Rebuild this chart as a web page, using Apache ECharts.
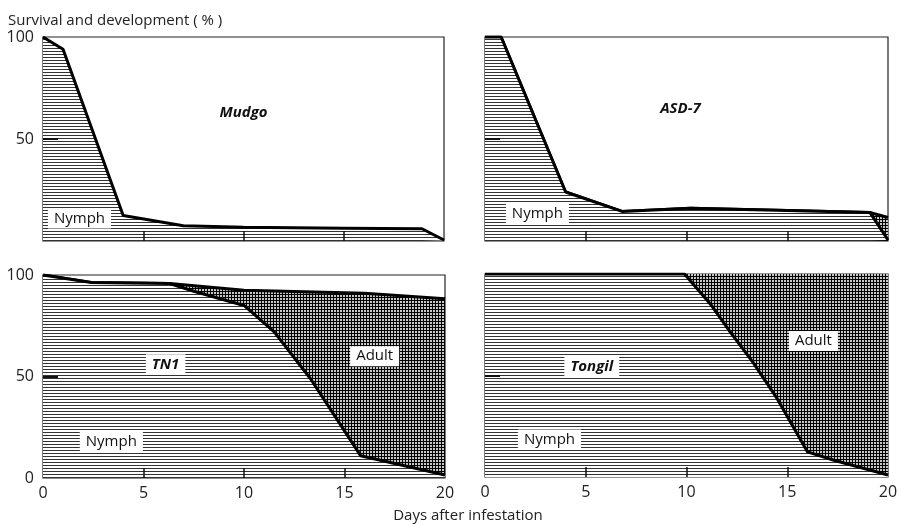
<!DOCTYPE html>
<html><head><meta charset="utf-8">
<script src="https://cdn.jsdelivr.net/npm/echarts@6/dist/echarts.min.js"></script>
<style>html,body{margin:0;padding:0;background:#fff}#c{width:901px;height:524px}</style>
</head><body><div id="c"></div>
<script>
// ---- data (days after infestation, % survival) ----
const mudgoDays   = [0, 1, 4, 7, 10, 15, 18.9, 20];
const mudgoNymph  = [100, 94, 12.5, 7.5, 6.8, 6.3, 6.0, 0.5];

const asdDays     = [0, 0.8, 4, 6.8, 10.2, 15, 19.1, 20];
const asdNymph    = [100, 100, 24, 14.5, 16, 15, 14, 0.5];
const asdTotal    = [100, 100, 24, 14.5, 16, 15, 14, 11.5];

const tn1NymphDays = [0, 2.4, 6.3, 7.5, 10, 11.5, 13.3, 15.8, 20];
const tn1Nymph     = [100, 96.3, 95.8, 92, 85, 72, 49, 11, 1.5];
const tn1TotalDays = [0, 2.4, 6.3, 10, 16, 20];
const tn1Total     = [100, 96.3, 95.8, 92.5, 91, 88.3];

const tongilNymphDays = [0, 9.9, 11.2, 12.2, 13.3, 14.5, 16, 17.4, 20];
const tongilNymph     = [100, 100, 85, 71, 56.5, 38.6, 12.4, 8, 1];
const tongilTotalDays = [0, 20];
const tongilTotal     = [100, 100];

const xTickLabels = [0, 5, 10, 15, 20];
const xInnerTicks = [5, 10, 15];
const yTickLabels = [50, 100];
const yTickLabelsWithZero = [0, 50, 100];

// ---- patterns ----
function hatchPattern(){
  const c=document.createElement('canvas'); c.width=6; c.height=3;
  const g=c.getContext('2d'); g.fillStyle='#fff'; g.fillRect(0,0,6,3);
  g.fillStyle='#333'; g.fillRect(0,0,6,1); return c;
}
function crossPattern(){
  const c=document.createElement('canvas'); c.width=3; c.height=3;
  const g=c.getContext('2d'); g.fillStyle='#c8c8c8'; g.fillRect(0,0,3,3);
  g.fillStyle='#000'; g.fillRect(0,0,3,1); g.fillRect(0,0,1,3); return c;
}
const HATCH={image:hatchPattern(),repeat:'repeat'};
const CROSS={image:crossPattern(),repeat:'repeat'};
const pairs=(xs,ys)=>xs.map((x,i)=>[x,ys[i]]);
const FONT="'Open Sans', 'DejaVu Sans', sans-serif";

const grids=[
  {left:43,top:37,width:401,height:204},
  {left:485,top:37,width:403,height:204},
  {left:43,top:275,width:402,height:203},
  {left:485,top:274,width:403,height:203}
].map(g=>Object.assign(g,{show:true,borderColor:'#222',borderWidth:1.2,backgroundColor:'#fff'}));

const xAxes=grids.map((g,i)=>({
  type:'value',gridIndex:i,min:0,max:20,interval:5,z:10,
  axisLine:{show:false},splitLine:{show:false},
  axisTick:{show:true,inside:true,length:10,customValues:xInnerTicks,lineStyle:{color:'#111',width:1.5}},
  axisLabel:{show:i>=2,customValues:xTickLabels,fontSize:16,color:'#222',margin:7,fontFamily:FONT}
}));
const yAxes=grids.map((g,i)=>({
  type:'value',gridIndex:i,min:0,max:100,interval:50,z:10,
  axisLine:{show:false},splitLine:{show:false},
  axisTick:{show:true,inside:true,length:15,customValues:[50],lineStyle:{color:'#111',width:2}},
  axisLabel:{show:i===0||i===2,customValues:i===0?yTickLabels:yTickLabelsWithZero,fontSize:16,color:'#222',margin:9,fontFamily:FONT}
}));

function tag(text,coord,italic,boxed){
  return {coord:coord,value:text,symbol:'rect',symbolSize:1,itemStyle:{color:'rgba(0,0,0,0)'},
    label:{show:true,position:'inside',formatter:text,fontFamily:FONT,fontSize:15,color:'#111',
      fontStyle:italic?'italic':'normal',fontWeight:italic?'bold':'normal',
      backgroundColor:boxed?'#fff':'transparent',padding:[3,6,2,6]}};
}
function mp(items){return {silent:true,animation:false,data:items};}

function nymph(gi,data,marks){
  return {type:'line',xAxisIndex:gi,yAxisIndex:gi,data:data,symbol:'none',z:3,
    lineStyle:{color:'#000',width:3},areaStyle:{color:HATCH,opacity:1},
    markPoint:marks?mp(marks):undefined,animation:false};
}
function total(gi,data,w){
  return {type:'line',xAxisIndex:gi,yAxisIndex:gi,data:data,symbol:'none',z:2,
    lineStyle:{color:'#000',width:w},areaStyle:{color:CROSS,opacity:1},animation:false};
}

const option={
  animation:false,
  title:[
    {text:'Survival and development ( % )',left:3,top:8,textStyle:{fontFamily:FONT,fontSize:15,fontWeight:'normal',color:'#222'}},
    {text:'Days after infestation',left:463,textAlign:'center',top:503,textStyle:{fontFamily:FONT,fontSize:15,fontWeight:'normal',color:'#222'}}
  ],
  grid:grids,xAxis:xAxes,yAxis:yAxes,
  series:[
    nymph(0,pairs(mudgoDays,mudgoNymph),[tag('Mudgo',[10,63],true,false),tag('Nymph',[1.82,11],false,true)]),
    total(1,pairs(asdDays,asdTotal),3),
    nymph(1,pairs(asdDays,asdNymph),[tag('ASD-7',[9.7,65],true,false),tag('Nymph',[2.6,13.5],false,true)]),
    total(2,pairs(tn1TotalDays,tn1Total),3),
    nymph(2,pairs(tn1NymphDays,tn1Nymph),[tag('TN1',[6.1,56],true,true),tag('Adult',[16.5,60],false,true),tag('Nymph',[3.4,18],false,true)]),
    total(3,pairs(tongilTotalDays,tongilTotal),0),
    nymph(3,pairs(tongilNymphDays,tongilNymph),[tag('Tongil',[5.3,54.5],true,true),tag('Adult',[16.3,67],false,true),tag('Nymph',[3.2,18.5],false,true)])
  ]
};
const chart=echarts.init(document.getElementById('c'),null,{renderer:'canvas'});
chart.setOption(option);
</script></body></html>
